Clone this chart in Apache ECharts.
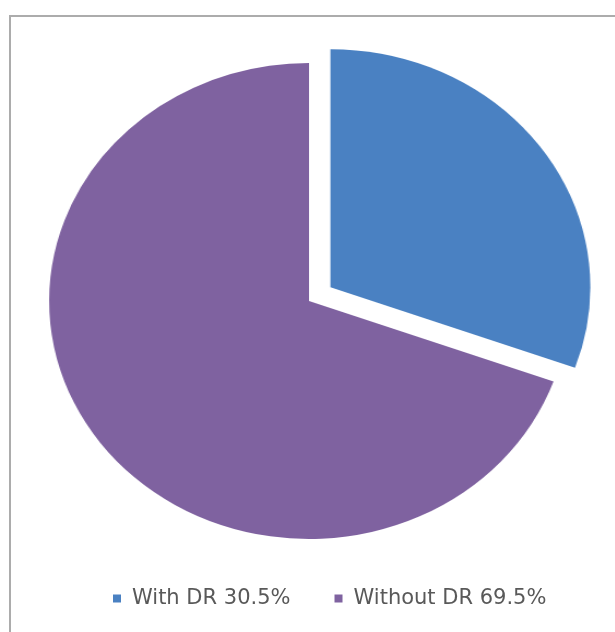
<!DOCTYPE html>
<html>
<head>
<meta charset="utf-8">
<script src="https://cdn.jsdelivr.net/npm/echarts@6/dist/echarts.min.js"></script>
<style>
  html, body { margin: 0; padding: 0; background: #fff; }
  #wrap { position: relative; width: 615px; height: 632px; overflow: hidden; }
  #frame, #pie { position: absolute; left: 0; top: 0; width: 615px; height: 632px; }
  /* the original pie is drawn as an ellipse, slightly wider than tall */
  #pie { transform: scaleX(1.092); transform-origin: 309px 301px; }
</style>
</head>
<body>
<div id="wrap">
  <div id="frame"></div>
  <div id="pie"></div>
</div>
<script>
const categories = ["With DR", "Without DR"];
const shares = [30.5, 69.5];
const colors = ["#4a81c2", "#7f62a0"];

let frameChart = echarts.init(document.getElementById("frame"));
let pieChart = echarts.init(document.getElementById("pie"));

let pieData = categories.map((name, i) => {
  return {
    name: name + " " + shares[i] + "%",
    value: shares[i],
    selected: i === 0,
    itemStyle: { color: colors[i] },
  };
});

// Frame and legend (not scaled)
let frameOption = {
  animation: false,
  graphic: [
    {
      type: "rect",
      shape: { x: 10, y: 16, width: 640, height: 660 },
      style: { fill: "none", stroke: "#acacac", lineWidth: 2 },
      silent: true,
    },
  ],
  legend: {
    bottom: 18,
    left: 108,
    icon: "rect",
    itemWidth: 8,
    itemHeight: 8,
    itemGap: 44,
    textStyle: {
      color: "#595959",
      fontSize: 21,
      fontFamily: "DejaVu Sans",
      padding: [0, 0, 0, 6],
    },
    selectedMode: false,
    data: pieData.map((d) => d.name),
  },
  series: [
    {
      type: "pie",
      radius: 0,
      silent: true,
      label: { show: false },
      data: pieData.map((d) => ({ name: d.name, value: d.value, itemStyle: d.itemStyle })),
    },
  ],
};

// Pie (stretched horizontally by CSS)
let pieOption = {
  animation: false,
  series: [
    {
      type: "pie",
      center: [309, 301],
      radius: 238,
      startAngle: 90,
      clockwise: true,
      selectedMode: "multiple",
      selectedOffset: 24,
      label: { show: false },
      labelLine: { show: false },
      emphasis: { disabled: true },
      data: pieData,
    },
  ],
};

frameChart.setOption(frameOption);
pieChart.setOption(pieOption);
</script>
</body>
</html>
